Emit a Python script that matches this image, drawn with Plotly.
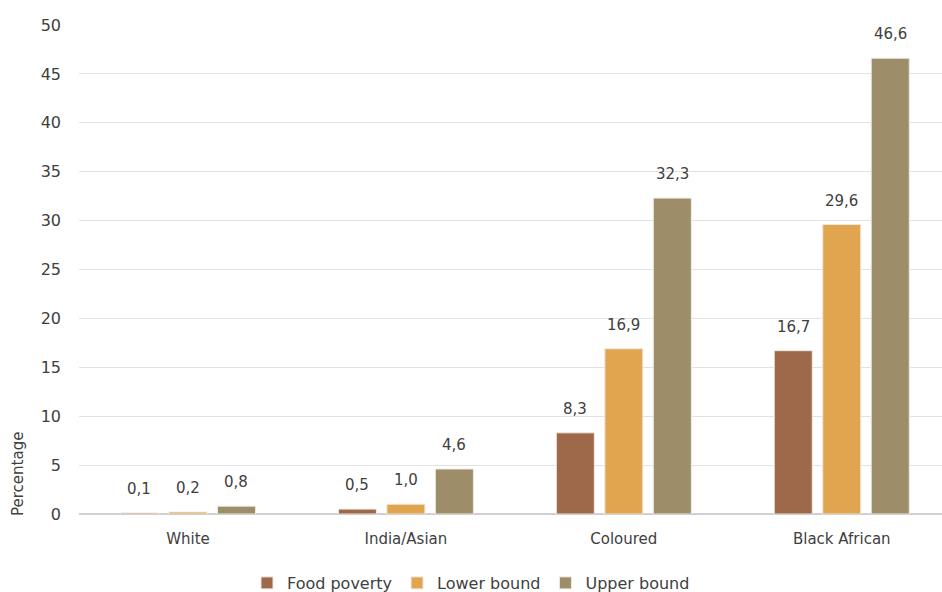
import plotly.graph_objects as go

categories = ["White", "India/Asian", "Coloured", "Black African"]
food_poverty = [0.1, 0.5, 8.3, 16.7]
lower_bound = [0.2, 1.0, 16.9, 29.6]
upper_bound = [0.8, 4.6, 32.3, 46.6]
y_ticks = [0, 5, 10, 15, 20, 25, 30, 35, 40, 45, 50]

series = [
    ("Food poverty", food_poverty, "#9E694B"),
    ("Lower bound", lower_bound, "#E1A54F"),
    ("Upper bound", upper_bound, "#9D8D69"),
]

FONT = "DejaVu Sans, sans-serif"
TXT = "#404040"

# plot-area geometry in pixels
L, R, T, B = 79, 0, 25, 78
W, H = 942, 592
PW = W - L - R
X_RANGE = [-0.5, 3.46]
PX_PER_CAT = PW / (X_RANGE[1] - X_RANGE[0])
SLOT = 0.2225  # category fraction per bar slot

def fmt(v):
    return f"{v:.1f}".replace(".", ",")

fig = go.Figure()
annotations = []
for i, (name, vals, col) in enumerate(series):
    fig.add_trace(go.Bar(
        name=name, x=categories, y=vals,
        marker=dict(color=col, line=dict(color="#EEE9DF", width=1)),
    ))
    shift = (i - 1) * SLOT * PX_PER_CAT
    for c, v in zip(categories, vals):
        annotations.append(dict(
            x=c, y=v, xref="x", yref="y", text=fmt(v), showarrow=False,
            xshift=shift, yshift=13, yanchor="bottom",
            font=dict(size=15, color=TXT, family=FONT),
        ))

annotations.append(dict(
    text="Percentage", x=-(L - 18) / PW, xref="paper",
    y=(H - B - 474) / (H - T - B), yref="paper",
    showarrow=False, textangle=-90, xanchor="center", yanchor="middle",
    font=dict(size=15, color=TXT, family=FONT),
))

fig.update_layout(
    width=W, height=H,
    margin=dict(l=L, r=R, t=T, b=B, autoexpand=False),
    paper_bgcolor="white", plot_bgcolor="white",
    barmode="group", bargap=1 - 3 * SLOT, bargroupgap=0.216,
    font=dict(family=FONT, size=15, color=TXT),
    showlegend=True,
    legend=dict(orientation="h", xref="container", x=0.5, xanchor="center",
                yref="container", y=(H - 583) / H, yanchor="middle",
                font=dict(size=16, color=TXT), itemwidth=30,
                traceorder="normal", tracegroupgap=0),
    xaxis=dict(range=X_RANGE, showgrid=False, ticks="", showline=False,
               tickfont=dict(size=15, color=TXT), ticklabelstandoff=14),
    yaxis=dict(range=[0, 50], tickvals=y_ticks, showgrid=True, gridcolor="#E2E2E2",
               gridwidth=1, zeroline=True, zerolinecolor="#D0D0D0", zerolinewidth=2,
               ticks="", tickfont=dict(size=16, color=TXT), ticklabelstandoff=17),
    annotations=annotations,
)

fig.write_html("out.html")
